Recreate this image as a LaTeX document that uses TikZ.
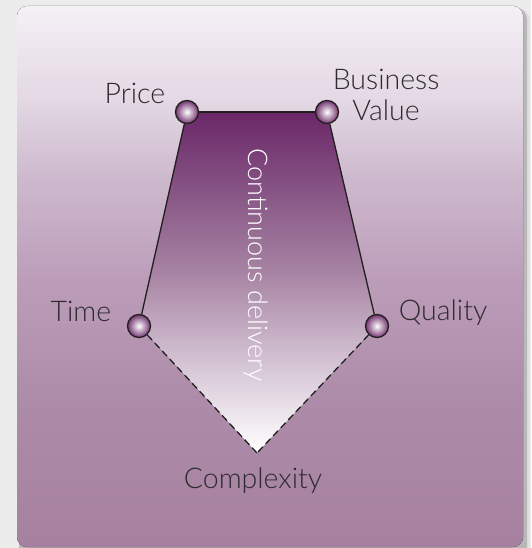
\documentclass[tikz,border=0pt]{standalone}
\usepackage{fontspec}
\IfFontExistsTF{Lato Light}{\setmainfont{Lato Light}}{\setmainfont{Lato}}
\usepackage{xcolor}
\usepackage{tikz}
\usetikzlibrary{positioning,backgrounds}

\definecolor{pagegray}{HTML}{ECECEC}
\definecolor{labelgray}{HTML}{2F2A2F}
\definecolor{edgegray}{HTML}{231F20}
\definecolor{ballpurple}{HTML}{733470}
\definecolor{cardA}{HTML}{A6819F}
\definecolor{cardB}{HTML}{AD8CA9}
\definecolor{cardC}{HTML}{BC9DB9}
\definecolor{cardD}{HTML}{CDB9CD}
\definecolor{cardE}{HTML}{E3D8E4}
\definecolor{cardF}{HTML}{F5F0F6}
\definecolor{fillA}{HTML}{FFFFFF}
\definecolor{fillB}{HTML}{D5C5D5}
\definecolor{fillC}{HTML}{A682A2}
\definecolor{fillD}{HTML}{8A5A88}
\definecolor{fillE}{HTML}{6B2768}

\pgfdeclareverticalshading{cardfill}{100bp}{
  color(0bp)=(cardA); color(25bp)=(cardA);
  color(38.7bp)=(cardB); color(49.7bp)=(cardC);
  color(59bp)=(cardD); color(66.3bp)=(cardE);
  color(75bp)=(cardF); color(100bp)=(cardF)}
\pgfdeclareverticalshading{deliveryfill}{100bp}{
  color(0bp)=(fillA); color(25bp)=(fillA);
  color(37.9bp)=(fillB); color(51.8bp)=(fillC);
  color(62.1bp)=(fillD); color(75bp)=(fillE);
  color(100bp)=(fillE)}

\begin{document}
\begin{tikzpicture}[x=1pt, y=-1pt,
ballnode/.style={circle, draw=edgegray, line width=1.3pt, minimum size=23pt, inner sep=0pt,
  shading=radial, inner color=white, outer color=ballpurple},
labelnode/.style={inner sep=0pt, text=labelgray, font=\fontsize{28.5}{31}\selectfont},
edgeline/.style={draw=edgegray, line width=1.3pt},
]
\useasboundingbox (0,0) rectangle (531,548);

%Nodes
\node[ballnode](Price) at (187,112){};
\node[ballnode](Value) at (327,112){};
\node[ballnode](Time) at (139,326){};
\node[ballnode](Quality) at (377,326){};
\coordinate (Complexity) at (257,453);

\node[labelnode](PriceText)[above left=0pt and 13pt of Price]{Price};
\node[labelnode, align=center](ValueText)[above right=-18pt and -3pt of Value]{Business\\Value};
\node[labelnode](TimeText)[above left=-4pt and 19pt of Time]{Time};
\node[labelnode](QualityText)[above right=-8.5pt and 13pt of Quality]{Quality};
\node[labelnode, xshift=-4pt](ComplexityText)[below=15pt of Complexity]{Complexity};
\node[labelnode, text=white, font=\fontsize{27}{30}\selectfont, rotate=-90](Delivery) at (256,265){Continuous delivery};

%Lines
\draw[edgeline] (Price) -- (Value);
\draw[edgeline] (Price) -- (Time);
\draw[edgeline] (Value) -- (Quality);
\draw[edgeline, dash pattern=on 7pt off 4pt] (Time) -- (Complexity);
\draw[edgeline, dash pattern=on 7pt off 4pt] (Quality) -- (Complexity);

%Background
\begin{pgfonlayer}{background}
\fill[pagegray] (0,0) rectangle (531,548);
\fill[black!12, rounded corners=12pt] (19,8) rectangle (530,560);
\fill[black!28, rounded corners=11pt] (19,8) rectangle (527,560);
\fill[shading=cardfill, rounded corners=10pt] (17,6) rectangle (523,547);
\fill[shading=deliveryfill] (Price.center) -- (Value.center) -- (Quality.center)
  -- (Complexity) -- (Time.center) -- cycle;
\end{pgfonlayer}
\end{tikzpicture}
\end{document}
